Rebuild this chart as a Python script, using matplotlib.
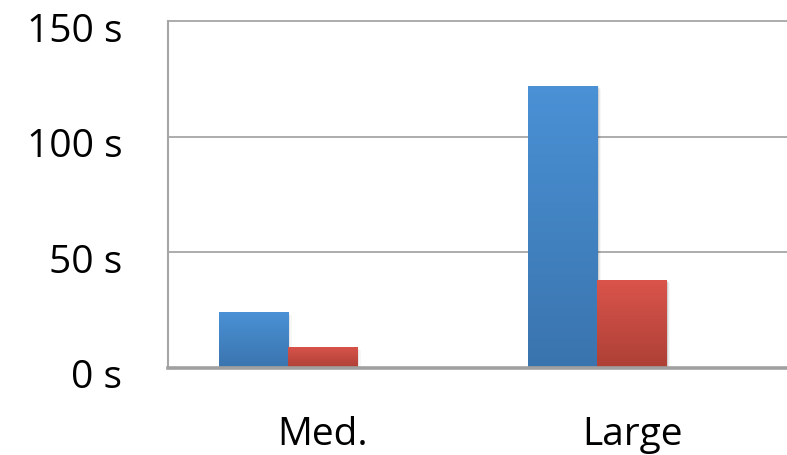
import numpy as np
import matplotlib
matplotlib.use("Agg")
import matplotlib.pyplot as plt
import matplotlib.transforms as mtransforms
from matplotlib.colors import LinearSegmentedColormap

# data
categories = ["Med.", "Large"]
series_a = [24.2, 122.0]   # blue
series_b = [9.2, 38.0]     # red
yticks = [0, 50, 100, 150]
ytick_labels = ["0 s", "50 s", "100 s", "150 s"]

plt.rcParams["font.family"] = ["Open Sans", "DejaVu Sans"]

fig = plt.figure(figsize=(7.87, 4.56), dpi=100)
ax = fig.add_axes([0.2135, 0.1908, 0.7865, 0.7599])

x = np.arange(len(categories))
w = 0.223

blue_cm = LinearSegmentedColormap.from_list("bl", ["#3a74ae", "#4a91d5"])
red_cm = LinearSegmentedColormap.from_list("rd", ["#ad4036", "#da544b"])

grad = np.linspace(0, 1, 256).reshape(-1, 1)


def gradient_bars(xs, heights, cmap):
    bars = ax.bar(xs, heights, w, color="none", zorder=3)
    for b in bars:
        x0, y0 = b.get_x(), b.get_y()
        h = b.get_height()
        # soft shadow on the right/bottom
        for i, a in enumerate([0.10, 0.06, 0.03]):
            d = 0.004 * (i + 1)
            ax.add_patch(plt.Rectangle((x0 + d, y0 - 0.4 * (i + 1)), w, h,
                                       color="k", alpha=a, lw=0, zorder=2))
        im = ax.imshow(grad, cmap=cmap, aspect="auto", origin="lower",
                       extent=[x0, x0 + w, 0, h], zorder=3, vmin=0, vmax=1)
        im.set_clip_path(b)
    return bars


gradient_bars(x - w * 1.0 - 0.001, series_a, blue_cm)
gradient_bars(x - 0.001, series_b, red_cm)

ax.set_xlim(-0.5, 1.5)
ax.set_ylim(0, 150)

ax.set_yticks(yticks)
ax.set_yticklabels(ytick_labels, fontsize=28)
ax.set_xticks(x)
ax.set_xticklabels(categories, fontsize=28)
ax.tick_params(length=0)
ax.tick_params(axis="y", pad=33)
ax.tick_params(axis="x", pad=34)

# nudge y labels a little below their gridlines
shift = mtransforms.ScaledTranslation(0, -5 / 100, fig.dpi_scale_trans)
for lab in ax.get_yticklabels():
    lab.set_transform(lab.get_transform() + shift)

for y in yticks[1:]:
    ax.axhline(y, color="#a6a6a6", lw=1.3, zorder=1, clip_on=False)
ax.axhline(0, color="#a0a0a0", lw=2.6, zorder=4, clip_on=False)

for s in ["top", "right", "bottom"]:
    ax.spines[s].set_visible(False)
ax.spines["left"].set_color("#a6a6a6")
ax.spines["left"].set_linewidth(1.5)

fig.savefig("out.png", dpi=100)
